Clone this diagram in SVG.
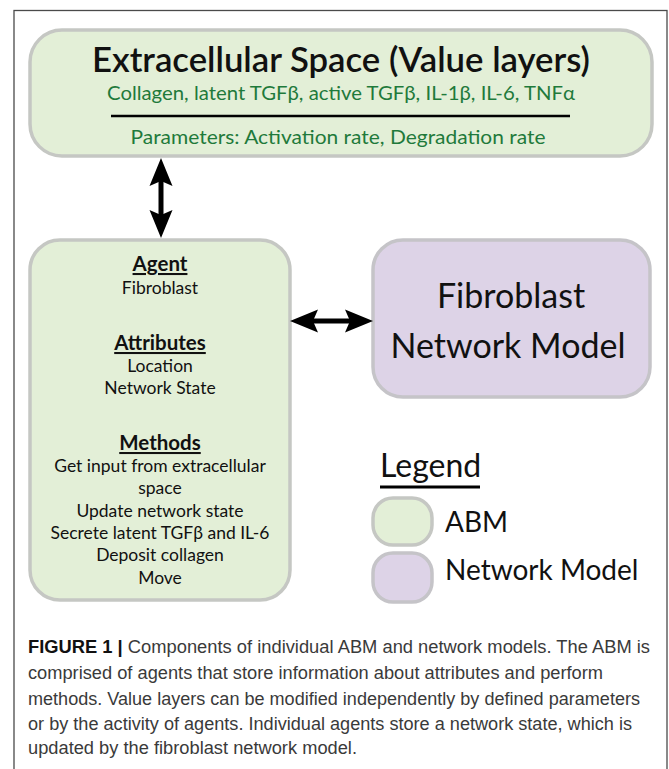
<svg xmlns="http://www.w3.org/2000/svg" width="669" height="769" viewBox="0 0 669 769">
  <style>
    .abm { fill: #e3efd7; stroke: #c5c7c3; stroke-width: 3.5; }
    .net { fill: #ddd3e7; stroke: #c5c4c8; stroke-width: 3.5; }
    .t { font-family: Lato, "Open Sans", "Liberation Sans", sans-serif; fill: #111; }
    .green { fill: #1f7a3b; font-size: 20px; }
    .hdr { font-size: 20.5px; font-weight: 700; text-decoration: underline; }
    .item { font-size: 17.5px; }
    .cap { font-family: "Liberation Sans", Arial, sans-serif; font-size: 17.5px; fill: #3a3a3a; }
    .conn { stroke: #000; stroke-width: 5; fill: none; }
  </style>
  <defs>
    <marker id="head" viewBox="-6 -12 30 24" refX="0" refY="0" markerWidth="30" markerHeight="24" markerUnits="userSpaceOnUse" orient="auto-start-reverse">
      <path d="M-5,-11.5 L23,0 L-5,11.5 L0,0 Z" fill="#000"/>
    </marker>
  </defs>
  <rect x="0" y="0" width="669" height="769" fill="#fff"/>
  <rect x="14" y="10.5" width="653" height="800" fill="none" stroke="#4a4a4a" stroke-width="1.3"/>

  <g id="extracellular">
    <rect class="abm" x="30" y="30" width="622" height="126" rx="32"/>
    <text class="t" x="341" y="72" text-anchor="middle" font-size="35" font-weight="600" textLength="498" lengthAdjust="spacingAndGlyphs">Extracellular Space (Value layers)</text>
    <text class="t green" x="341" y="100" text-anchor="middle" textLength="468" lengthAdjust="spacingAndGlyphs">Collagen, latent TGFβ, active TGFβ, IL-1β, IL-6, TNFα</text>
    <line x1="111" y1="116" x2="570" y2="116" stroke="#000" stroke-width="2.5"/>
    <text class="t green" x="338" y="144" text-anchor="middle" textLength="415" lengthAdjust="spacingAndGlyphs">Parameters: Activation rate, Degradation rate</text>
  </g>

  <g id="agent">
    <rect class="abm" x="30" y="240" width="260" height="360" rx="30"/>
    <g class="t" text-anchor="middle">
      <text class="hdr" x="160" y="271">Agent</text>
      <text class="item" x="160" y="294">Fibroblast</text>
      <text class="hdr" x="160" y="350">Attributes</text>
      <text class="item" x="160" y="372">Location</text>
      <text class="item" x="160" y="394">Network State</text>
      <text class="hdr" x="160" y="450">Methods</text>
      <text class="item" x="160" y="472">Get input from extracellular</text>
      <text class="item" x="160" y="494">space</text>
      <text class="item" x="160" y="517">Update network state</text>
      <text class="item" x="160" y="539">Secrete latent TGFβ and IL-6</text>
      <text class="item" x="160" y="561">Deposit collagen</text>
      <text class="item" x="160" y="584">Move</text>
    </g>
  </g>

  <g id="network-model">
    <rect class="net" x="373" y="240" width="277" height="157" rx="30"/>
    <text class="t" x="511" y="308" text-anchor="middle" font-size="34">Fibroblast</text>
    <text class="t" x="508" y="358" text-anchor="middle" font-size="34">Network Model</text>
  </g>

  <g id="legend">
    <text class="t" x="380" y="477" font-size="32">Legend</text>
    <line x1="380" y1="487" x2="480" y2="487" stroke="#000" stroke-width="3"/>
    <rect class="abm" x="373" y="498" width="59" height="47" rx="20"/>
    <text class="t" x="445" y="532" font-size="28">ABM</text>
    <rect class="net" x="373" y="553" width="59" height="49" rx="20"/>
    <text class="t" x="445" y="580" font-size="28">Network Model</text>
  </g>

  <g id="connectors">
    <line class="conn" x1="161" y1="181" x2="161" y2="215" marker-start="url(#head)" marker-end="url(#head)"/>
    <line class="conn" x1="313" y1="321" x2="350" y2="321" marker-start="url(#head)" marker-end="url(#head)"/>
  </g>

  <g id="caption">
    <text class="cap" x="28" y="653" textLength="622" lengthAdjust="spacingAndGlyphs"><tspan font-weight="700" fill="#111">FIGURE 1 |</tspan> Components of individual ABM and network models. The ABM is</text>
    <text class="cap" x="28" y="679" textLength="575" lengthAdjust="spacingAndGlyphs">comprised of agents that store information about attributes and perform</text>
    <text class="cap" x="28" y="705" textLength="612" lengthAdjust="spacingAndGlyphs">methods. Value layers can be modified independently by defined parameters</text>
    <text class="cap" x="28" y="730" textLength="604" lengthAdjust="spacingAndGlyphs">or by the activity of agents. Individual agents store a network state, which is</text>
    <text class="cap" x="28" y="754" textLength="329" lengthAdjust="spacingAndGlyphs">updated by the fibroblast network model.</text>
  </g>
</svg>
